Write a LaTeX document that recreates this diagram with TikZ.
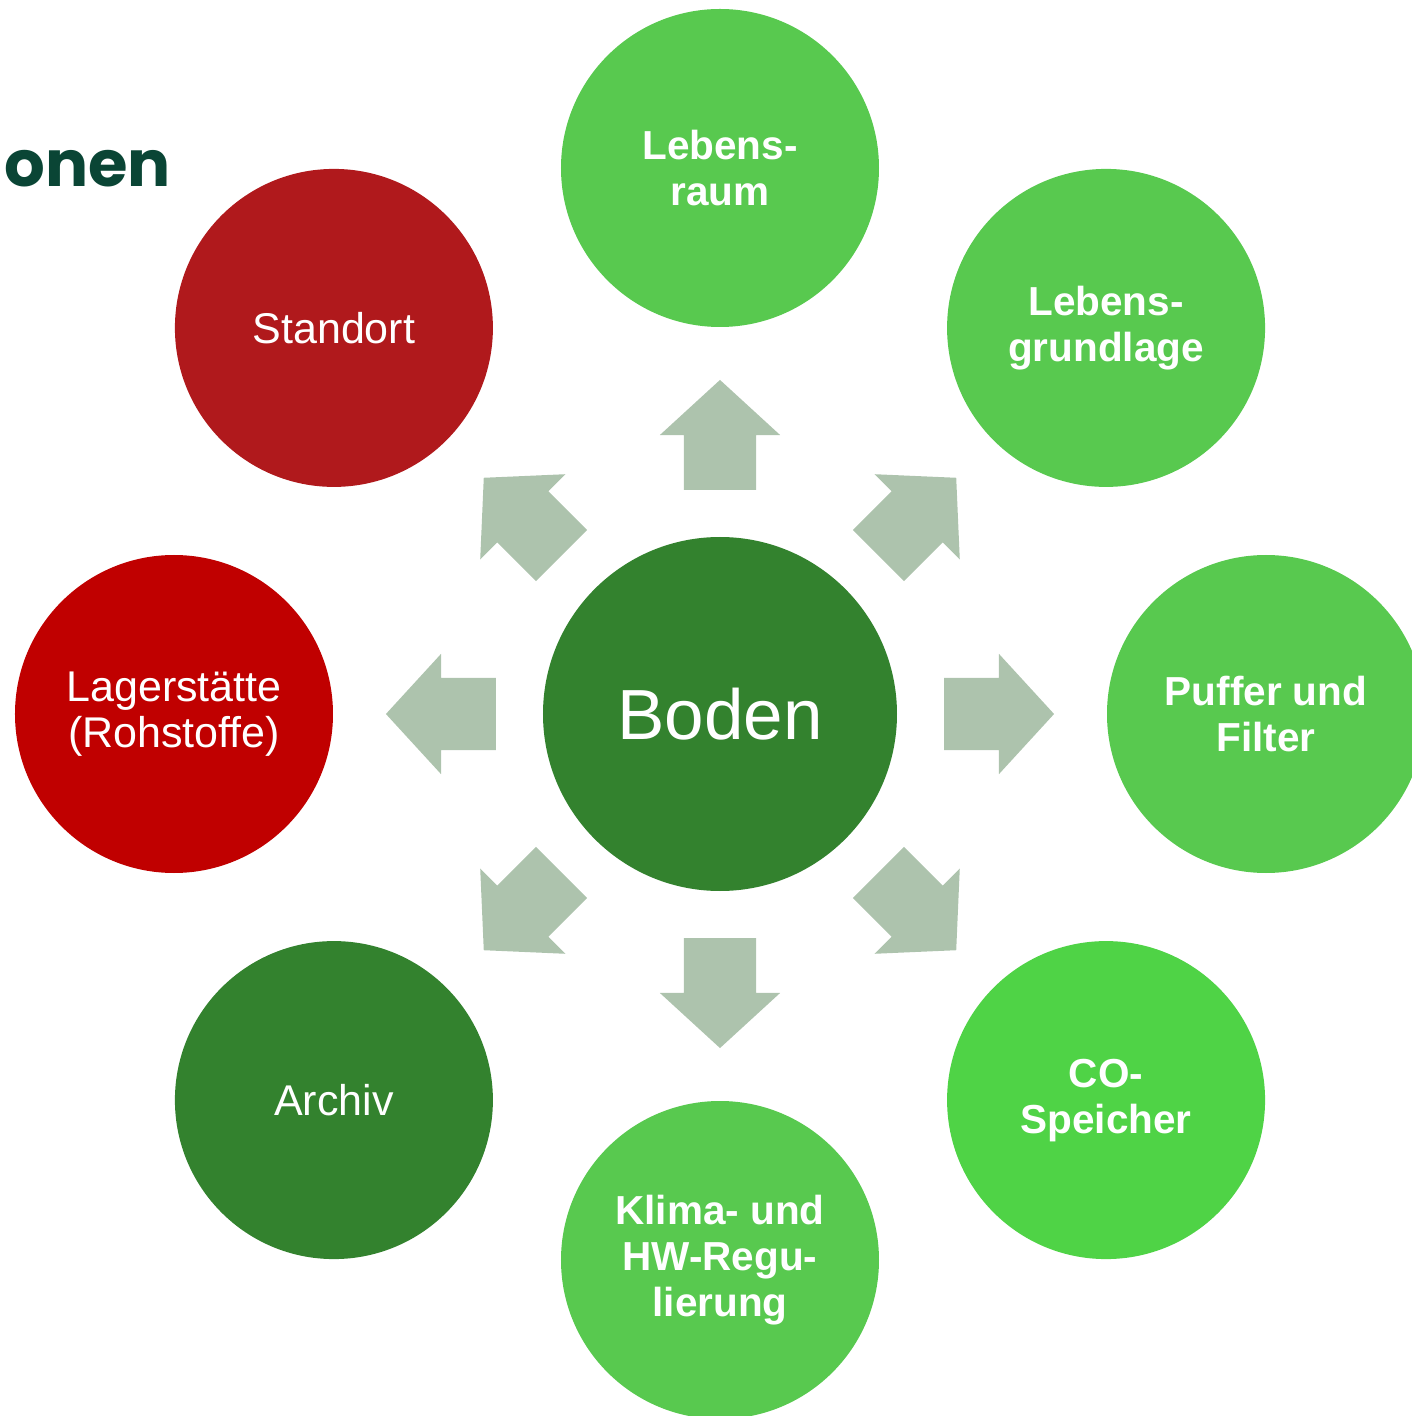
\documentclass[tikz,border=0pt]{standalone}
\usepackage{fontspec}
\setmainfont{Liberation Sans}
\newfontfamily\headfont{Poppins}
\usetikzlibrary{shapes.arrows}
\definecolor{soilgreen}{HTML}{33822E}
\definecolor{lightgreen}{HTML}{58C94F}
\definecolor{brightgreen}{HTML}{4FD346}
\definecolor{soilred}{HTML}{B0191C}
\definecolor{deepred}{HTML}{C00000}
\definecolor{arrowgrey}{HTML}{ADC3AD}
\definecolor{titleteal}{HTML}{0A4535}

\tikzset{
  func/.style={circle,minimum size=318pt,inner sep=0pt,text=white,align=center,
    font=\fontsize{40.5}{46}\selectfont\bfseries},
  plain/.style={font=\fontsize{43}{46}\selectfont},
  flow/.style={single arrow,fill=arrowgrey,inner xsep=0pt,inner ysep=36pt,
    minimum height=110pt,single arrow head extend=24pt,single arrow tip angle=95,
    sloped,allow upside down,anchor=tail}
}

\begin{document}
\begin{tikzpicture}[x=1pt,y=1pt]
  \useasboundingbox (-720,-702) rectangle (692,714);

  \node[anchor=base east,inner sep=0pt,text=titleteal,
    font=\headfont\bfseries\fontsize{64}{64}\selectfont] (title) at (-549,527) {onen};

  % Boden in the middle, its functions around it
  \node[circle,minimum size=354pt,inner sep=0pt,fill=soilgreen,text=white,
    font=\fontsize{71}{80}\selectfont] (boden) at (0,0) {Boden};

  \node[func,fill=lightgreen] (raum) at (90:546) {Lebens-\\raum};
  \node[func,fill=lightgreen] (grundlage) at (45:546) {Lebens-\\grundlage};
  \node[func,fill=lightgreen] (puffer) at (0:546) {Puffer und\\Filter};
  \node[func,fill=brightgreen] (speicher) at (-45:546) {CO-\\Speicher};
  \node[func,fill=lightgreen] (klima) at (-90:546) {Klima- und\\HW-Regu-\\lierung};
  \node[func,plain,fill=soilgreen] (archiv) at (-135:546) {Archiv};
  \node[func,plain,fill=deepred] (lager) at (180:546) {Lagerst\"atte\\(Rohstoffe)};
  \node[func,plain,fill=soilred] (standort) at (135:546) {Standort};

  \foreach \n in {raum,grundlage,puffer,speicher,klima,archiv,lager,standort}
    \path (boden.center) -- (\n.center) node[flow,pos=0.41] {};
\end{tikzpicture}
\end{document}
